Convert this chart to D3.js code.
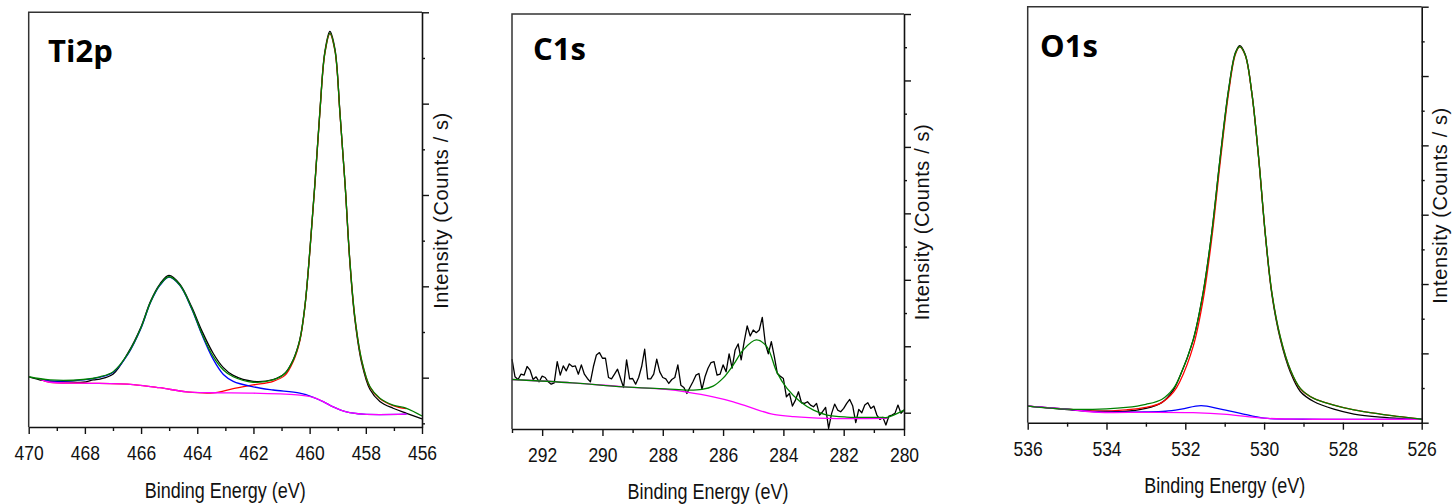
<!DOCTYPE html>
<html>
<head>
<meta charset="utf-8">
<script src="https://cdn.jsdelivr.net/npm/d3@7"></script>
<style>
  body { margin: 0; background: #fff; }
  svg { display: block; }
  .tick text { font-family: "Liberation Sans", Arial, sans-serif; font-size: 17.5px; fill: #111; }
  .axis path, .axis line { stroke: #111; }
  .axis path { stroke-width: 1.6; }
  .axis line { stroke-width: 1.4; }
  .curve { fill: none; stroke-width: 1.3; stroke-linejoin: round; }
</style>
</head>
<body>
<svg id="chart" width="1456" height="504"></svg>
<script>
// ---------- Ti2p ----------
const tiDataE = [470, 469.5, 469.24, 468.6, 468.06, 467.7, 467.46, 466.99, 466.46, 466.01, 465.66, 465.33, 465.01, 464.62, 464.20, 463.84, 463.43, 463.07, 462.72, 462.01, 461.30, 460.88, 460.58, 460.35, 460.17, 459.99, 459.81, 459.63, 459.46, 459.28, 459.10, 458.92, 458.74, 458.57, 458.39, 458.15, 457.85, 457.50, 457.03, 456.55, 456.0];
const tiData  = [1.02, 0.94, 0.92, 0.91, 0.90, 0.95, 0.97, 1.08, 1.55, 2.10, 2.68, 3.05, 3.24, 3.05, 2.55, 2.03, 1.53, 1.22, 1.05, 0.92, 0.96, 1.10, 1.40, 1.83, 2.56, 3.80, 5.27, 6.88, 8.13, 8.58, 8.20, 6.80, 5.25, 3.55, 2.28, 1.33, 0.74, 0.48, 0.33, 0.22, 0.10];

const tiEnvE = [470, 469.24, 468.06, 467.46, 466.99, 466.46, 466.01, 465.66, 465.33, 465.01, 464.62, 464.20, 463.84, 463.43, 463.07, 462.72, 462.01, 461.30, 460.88, 460.58, 460.35, 460.17, 459.99, 459.81, 459.63, 459.46, 459.28, 459.10, 458.92, 458.74, 458.57, 458.39, 458.15, 457.85, 457.50, 457.03, 456.55, 456.0];
const tiEnv  = [1.02, 0.95, 0.96, 1.02, 1.13, 1.53, 2.08, 2.66, 3.03, 3.21, 3.03, 2.52, 1.97, 1.46, 1.17, 1.02, 0.90, 0.95, 1.09, 1.39, 1.82, 2.55, 3.79, 5.26, 6.86, 8.10, 8.54, 8.17, 6.79, 5.26, 3.58, 2.33, 1.39, 0.80, 0.55, 0.40, 0.33, 0.16];

const tiRedE = [469.6, 469.24, 468.06, 466.28, 465.33, 464.38, 463.43, 462.72, 462.01, 461.30, 460.88, 460.58, 460.35, 460.17, 459.99, 459.81, 459.63, 459.46, 459.28, 459.10, 458.92, 458.74, 458.57, 458.39, 458.15, 457.85, 457.50, 457.03, 456.55];
const tiRed  = [0.97, 0.90, 0.88, 0.85, 0.78, 0.69, 0.67, 0.76, 0.84, 0.92, 1.05, 1.36, 1.80, 2.54, 3.78, 5.25, 6.85, 8.09, 8.53, 8.16, 6.78, 5.25, 3.57, 2.32, 1.38, 0.79, 0.54, 0.39, 0.32];

const tiBlueE = [469.6, 469.24, 468.06, 467.46, 466.99, 466.46, 466.01, 465.66, 465.33, 465.01, 464.62, 464.20, 463.84, 463.43, 463.07, 462.72, 462.01, 461.30, 460.35, 459.87, 459.5, 459.16, 458.69, 458.1, 456.55];
const tiBlue  = [0.97, 0.93, 0.95, 1.01, 1.12, 1.52, 2.07, 2.65, 3.02, 3.20, 3.02, 2.51, 1.95, 1.40, 1.07, 0.92, 0.80, 0.73, 0.66, 0.57, 0.47, 0.36, 0.25, 0.20, 0.20];

const tiBgE = [469.6, 469.24, 468.06, 466.28, 465.33, 464.38, 463.43, 462.01, 460.35, 459.87, 459.5, 459.16, 458.69, 458.1, 456.55];
const tiBg  = [0.97, 0.90, 0.88, 0.85, 0.78, 0.69, 0.67, 0.66, 0.62, 0.57, 0.47, 0.36, 0.25, 0.20, 0.20];

// ---------- C1s ----------
// counts read every 0.1 eV from 293 eV down to 280 eV
const cDataStart = 293, cDataStep = -0.1;
const cData = [1.61, 1.08, 1.00, 1.16, 1.13, 1.39, 1.28, 1.00, 1.08, 0.93,
  1.10, 1.06, 0.93, 0.86, 0.90, 1.54, 1.13, 1.41, 1.26, 1.47,
  1.39, 1.41, 1.16, 1.44, 1.16, 1.03, 0.93, 1.39, 1.74, 1.81,
  1.64, 1.64, 1.06, 1.02, 1.16, 1.31, 1.03, 0.76, 1.59, 1.02,
  1.03, 0.86, 1.06, 1.39, 1.91, 1.02, 1.02, 1.16, 1.61, 1.23,
  1.06, 1.02, 0.88, 1.00, 1.06, 1.44, 0.83, 0.76, 0.58, 0.76,
  0.93, 1.13, 1.18, 0.70, 1.08, 1.34, 1.51, 1.54, 1.13, 1.16,
  1.44, 1.23, 1.77, 1.34, 1.89, 2.07, 1.59, 2.14, 2.61, 2.31,
  2.49, 2.41, 2.49, 2.87, 2.09, 1.77, 2.14, 1.69, 1.18, 1.10,
  1.03, 0.48, 0.58, 0.20, 0.38, 0.63, 0.30, 0.28, 0.33, 0.23,
  0.18, 0.28, -0.07, 0.03, 0.16, -0.47, -0.02, 0.26, 0.08, 0.03,
  0.13, 0.28, 0.40, 0.20, -0.30, 0.10, 0.00, 0.23, 0.30, 0.13,
  0.20, -0.07, -0.20, -0.14, -0.37, -0.10, -0.07, -0.02, 0.23, -0.02,
  0.08];

const cEnvE = [293, 291, 289.3, 287.9, 287.2, 286.7, 286.33, 286.0, 285.66, 285.33, 284.9, 284.55, 284.22, 283.88, 283.44, 283.0, 282.55, 281.9, 280.78, 280.56, 280];
const cEnv  = [1.0, 0.90, 0.78, 0.72, 0.68, 0.70, 0.80, 1.04, 1.44, 1.89, 2.19, 1.99, 1.23, 0.73, 0.33, 0.08, -0.07, -0.13, -0.14, -0.14, 0.08];

const cBgE = [293, 291, 289.3, 287.9, 287.2, 286.33, 285.66, 285.0, 284.33, 283.66, 282.55, 280.56];
const cBg  = [1.0, 0.90, 0.78, 0.70, 0.62, 0.48, 0.33, 0.13, -0.05, -0.12, -0.17, -0.17];

// ---------- O1s ----------
const oDataE = [536, 535.5, 535.0, 534.5, 534.0, 533.6, 533.0, 532.6, 532.3, 532.14, 531.8, 531.55, 531.33, 531.12, 530.9, 530.73, 530.62, 530.48, 530.31, 530.14, 529.97, 529.8, 529.59, 529.33, 529.08, 528.74, 528.23, 527.72, 527.05, 526.5, 526];
const oData  = [0.48, 0.43, 0.38, 0.34, 0.33, 0.32, 0.41, 0.58, 0.95, 1.33, 2.39, 3.74, 5.47, 7.60, 9.62, 10.67, 10.88, 10.63, 9.50, 7.65, 5.43, 3.68, 2.42, 1.45, 0.90, 0.61, 0.39, 0.25, 0.16, 0.12, 0.10];

const oEnvE = [536, 535.0, 534.0, 533.5, 533.0, 532.6, 532.3, 532.14, 531.8, 531.55, 531.33, 531.12, 530.9, 530.73, 530.62, 530.48, 530.31, 530.14, 529.97, 529.8, 529.59, 529.33, 529.08, 528.74, 528.23, 527.72, 527.05, 526];
const oEnv  = [0.48, 0.39, 0.40, 0.44, 0.53, 0.67, 0.99, 1.33, 2.39, 3.73, 5.46, 7.58, 9.60, 10.65, 10.85, 10.61, 9.50, 7.67, 5.46, 3.73, 2.48, 1.52, 0.99, 0.70, 0.51, 0.37, 0.25, 0.10];

const oRedE = [536, 535.0, 534.2, 533.5, 533.0, 532.6, 532.3, 532.14, 531.8, 531.55, 531.33, 531.12, 530.9, 530.73, 530.62, 530.48, 530.31, 530.14, 529.97, 529.8, 529.59, 529.33, 529.08, 528.74, 528.23, 527.72, 527.05, 526];
const oRed  = [0.48, 0.39, 0.33, 0.37, 0.44, 0.58, 0.88, 1.18, 2.20, 3.53, 5.30, 7.45, 9.52, 10.62, 10.84, 10.60, 9.49, 7.66, 5.45, 3.72, 2.47, 1.51, 0.98, 0.70, 0.51, 0.37, 0.25, 0.10];

const oBlueE = [536, 535, 534.2, 533, 532.5, 532.1, 531.6, 531.1, 530.6, 530.0, 529, 526];
const oBlue  = [0.48, 0.39, 0.31, 0.31, 0.33, 0.39, 0.49, 0.39, 0.27, 0.13, 0.10, 0.10];

const oBgE = [536, 535, 534.2, 533, 531.8, 530.95, 530.0, 528.74, 526];
const oBg  = [0.48, 0.39, 0.30, 0.30, 0.29, 0.24, 0.13, 0.10, 0.10];

// ---------- layout ----------
const panels = [
  { name: "Ti2p", xDom: [470, 456], xR: [28.7, 422], yDom: [-0.08, 9], yR: [427, 12.3], yTicks: d3.range(0, 10), majorOdd: true,
    label: [48, 61.7], xTitle: 498.4, yTitle: [447.5, 210.5],
    series: [
      { E: tiDataE, v: tiData, c: "#000", smooth: true },
      { E: tiRedE, v: tiRed, c: "#ff0000", smooth: true },
      { E: tiBlueE, v: tiBlue, c: "#0000ff", smooth: true },
      { E: tiBgE, v: tiBg, c: "#ff00ff", smooth: true },
      { E: tiEnvE, v: tiEnv, c: "#008000", smooth: true }
    ] },
  { name: "C1s", xDom: [293, 280], xR: [512, 904], yDom: [-0.49, 12], yR: [429, 14], yTicks: d3.range(0, 13), majorOdd: false,
    label: [533, 60], xTitle: 498.5, yTitle: [929.3, 222],
    series: [
      { E: cData.map((d, i) => cDataStart + i * cDataStep), v: cData, c: "#000", smooth: false },
      { E: cBgE, v: cBg, c: "#ff00ff", smooth: true },
      { E: cEnvE, v: cEnv, c: "#008000", smooth: true }
    ] },
  { name: "O1s", xDom: [536, 526], xR: [1027.7, 1421.7], yDom: [0, 12], yR: [422.7, 6.7], yTicks: d3.range(0, 13), majorOdd: false,
    label: [1040, 56.7], xTitle: 492.7, yTitle: [1447.3, 205.5],
    series: [
      { E: oDataE, v: oData, c: "#000", smooth: true },
      { E: oRedE, v: oRed, c: "#ff0000", smooth: true },
      { E: oBlueE, v: oBlue, c: "#0000ff", smooth: true },
      { E: oBgE, v: oBg, c: "#ff00ff", smooth: true },
      { E: oEnvE, v: oEnv, c: "#008000", smooth: true }
    ] }
];

const svg = d3.select("#chart");

panels.forEach(p => {
  const x = d3.scaleLinear().domain(p.xDom).range(p.xR);
  const y = d3.scaleLinear().domain(p.yDom).range(p.yR);
  const g = svg.append("g");
  const left = p.xR[0], right = p.xR[1], top = p.yR[1], bottom = p.yR[0];

  // curves
  p.series.forEach(s => {
    const pts = s.E.map((e, i) => [e, s.v[i]]);
    const line = d3.line()
      .x(d => x(d[0]))
      .y(d => y(d[1]))
      .curve(s.smooth ? d3.curveCatmullRom.alpha(0.5) : d3.curveLinear);
    g.append("path")
      .attr("class", "curve")
      .attr("d", line(pts))
      .attr("stroke", s.c)
      .attr("stroke-width", s.smooth ? 1.4 : 1.1);
  });

  // frame: left + top
  g.append("path")
    .attr("d", `M${left},${bottom}V${top}H${right}`)
    .attr("fill", "none")
    .attr("stroke", "#333")
    .attr("stroke-width", 1.5);

  // bottom axis
  const lo = Math.min(...p.xDom), hi = Math.max(...p.xDom);
  const xTicks = d3.range(lo, hi + 0.5, 1);
  const xAxis = d3.axisBottom(x)
    .tickValues(xTicks)
    .tickSize(7)
    .tickSizeOuter(0)
    .tickFormat(d => d % 2 === 0 ? d : "");
  const gx = g.append("g")
    .attr("class", "axis")
    .attr("transform", `translate(0,${bottom})`)
    .call(xAxis);
  gx.selectAll(".tick line").attr("y2", d => d % 2 === 0 ? 7 : 4);
  gx.selectAll(".tick text")
    .attr("y", 0)
    .attr("dy", null)
    .attr("transform", "translate(0,33) scale(1,1.2)");

  // right axis
  const yAxis = d3.axisRight(y)
    .tickValues(p.yTicks)
    .tickSize(7)
    .tickSizeOuter(0)
    .tickFormat("");
  const gy = g.append("g")
    .attr("class", "axis")
    .attr("transform", `translate(${right},0)`)
    .call(yAxis);
  gy.selectAll(".tick line").attr("x2", d => ((d % 2 === 1) === p.majorOdd) ? 7 : 3);

  // titles
  g.append("text")
    .attr("transform", `translate(${(left + right) / 2},${p.xTitle}) scale(1,1.22)`)
    .attr("text-anchor", "middle")
    .attr("font-family", "'Liberation Sans', Arial, sans-serif")
    .attr("font-size", 18)
    .attr("fill", "#111")
    .text("Binding Energy (eV)");

  g.append("text")
    .attr("transform", `translate(${p.yTitle[0]},${p.yTitle[1]}) rotate(-90)`)
    .attr("text-anchor", "middle")
    .attr("font-family", "'Liberation Sans', Arial, sans-serif")
    .attr("font-size", 20)
    .attr("letter-spacing", 0.6)
    .attr("fill", "#111")
    .text("Intensity (Counts / s)");

  g.append("text")
    .attr("x", p.label[0])
    .attr("y", p.label[1])
    .attr("font-family", "'Open Sans', 'Noto Sans', sans-serif")
    .attr("font-weight", "bold")
    .attr("font-size", 31)
    .attr("fill", "#000")
    .text(p.name);
});
</script>
</body>
</html>
